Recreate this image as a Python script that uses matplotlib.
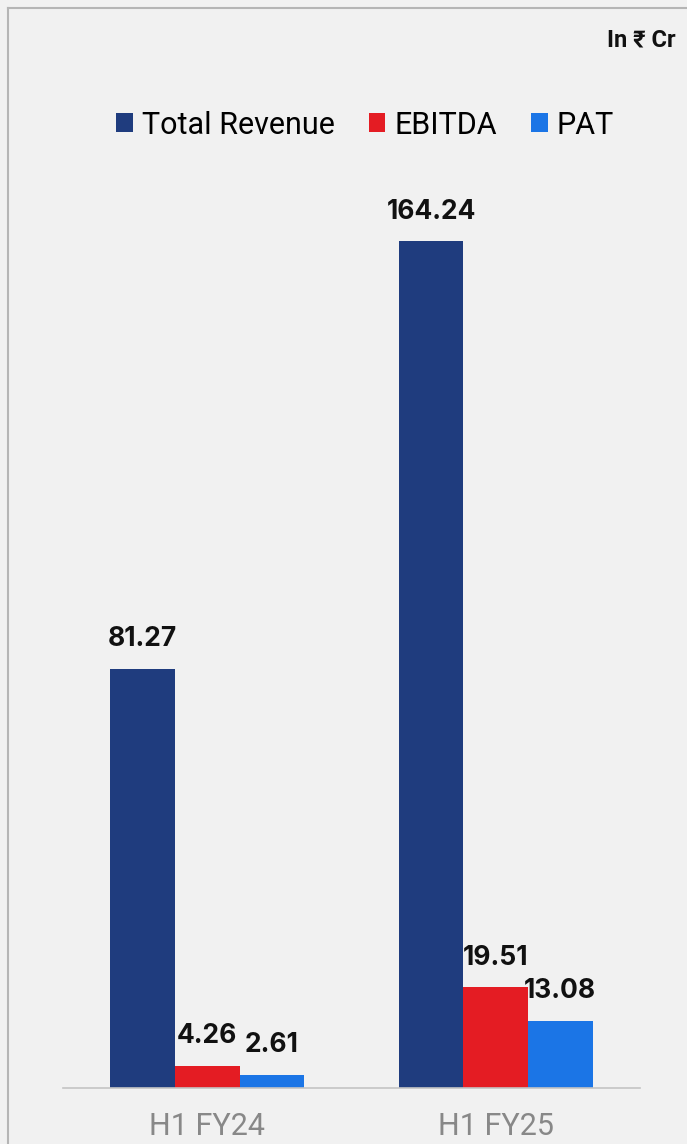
import matplotlib.pyplot as plt
import numpy as np
from matplotlib.lines import Line2D

# Financial data (In ₹ Cr)
periods = ['H1 FY24', 'H1 FY25']
series = ['Total Revenue', 'EBITDA', 'PAT']
revenue = [81.27, 164.24]
ebitda = [4.26, 19.51]
pat = [2.61, 13.08]
colors = ['#1f3c7e', '#e41c23', '#1b75e6']

W, H = 687, 1144
fig = plt.figure(figsize=(W / 100, H / 100), dpi=100)
fig.patch.set_facecolor('#f1f1f1')

ax = fig.add_axes([63 / W, 56 / H, 577 / W, (1088 - 160) / H])
ax.set_facecolor('none')

x = np.arange(len(periods))
width = 0.224
handles = []
for i, (vals, name, col) in enumerate(zip([revenue, ebitda, pat], series, colors)):
    bars = ax.bar(x + (i - 1) * width, vals, width, color=col, label=name)
    handles.append(bars)
    for b, v in zip(bars, vals):
        ax.annotate(f'{v:.2f}', (b.get_x() + b.get_width() / 2, v),
                    xytext=(0, 12), textcoords='offset points',
                    ha='center', va='bottom', fontsize=19,
                    fontweight='bold', family='Inter', color='#111111')

ax.set_xlim(-0.5, 1.5)
ax.set_ylim(0, 180)
ax.set_xticks(x)
ax.set_xticklabels(periods, fontsize=22, color='#888888', family='Roboto')
ax.tick_params(axis='x', length=0, pad=17)
ax.set_yticks([])
for s in ['top', 'right', 'left']:
    ax.spines[s].set_visible(False)
ax.spines['bottom'].set_color('#c4c4c4')
ax.spines['bottom'].set_linewidth(1.2)

# Legend
fig.legend(handles=handles, labels=series, loc='center',
           bbox_to_anchor=(365 / W, 1 - 125 / H), ncol=3, frameon=False,
           prop={'family': 'Roboto', 'size': 22},
           handlelength=0.55, handleheight=0.55, handletextpad=0.3,
           columnspacing=1.1)

# Unit note
fig.text(676 / W, 1 - 40 / H, 'In ₹ Cr', ha='right', va='center',
         fontsize=17, fontweight='bold', family=['Roboto', 'DejaVu Sans'],
         color='#111111')

# Frame lines at top and left
fig.add_artist(Line2D([8 / W, 1], [1 - 8 / H, 1 - 8 / H], color='#b5b5b5', lw=1.5))
fig.add_artist(Line2D([8 / W, 8 / W], [0, 1 - 8 / H], color='#b5b5b5', lw=1.5))

fig.savefig('out.png', dpi=100, facecolor=fig.get_facecolor())
